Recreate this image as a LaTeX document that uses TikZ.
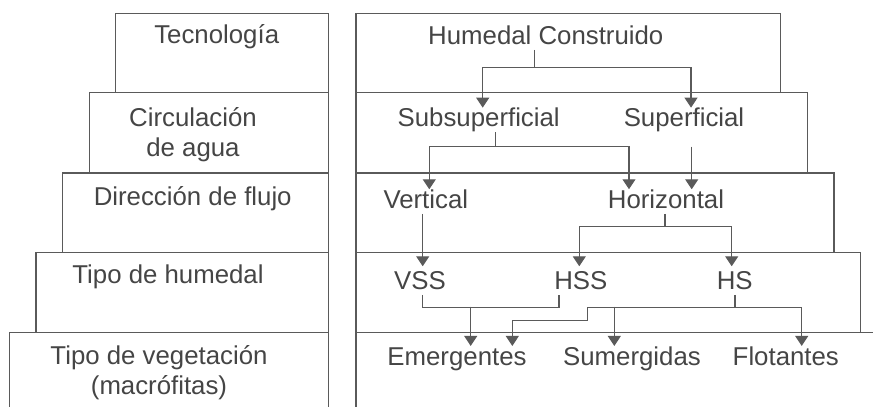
\documentclass[tikz,border=0pt]{standalone}
\usepackage{fontspec}
\setmainfont{Liberation Sans}
\usetikzlibrary{arrows.meta}
\definecolor{linegray}{HTML}{5A5A5A}
\definecolor{textgray}{HTML}{454545}

\begin{document}
\begin{tikzpicture}[x=1pt,y=-1pt,line width=1.1pt,color=linegray,
        lbl/.style={font=\fontsize{25.8}{30}\selectfont,text=textgray,inner sep=0pt,anchor=base,align=center},
        item/.style={lbl,text height=18.5pt,text depth=5pt},
        arr/.style={-{Triangle[width=13pt,length=10pt]}}]
        \useasboundingbox (0,0) rectangle (873,407);
        \foreach \xl/\yt/\yb in {115.7/13.3/92.3,89.3/92.3/173,62.7/173/252.3,36/252.3/332.3,9.7/332.3/407}
            \draw (\xl,\yb) |- (328.3,\yt) -- (328.3,\yb);
        \foreach \xr/\yt/\yb in {780.7/13.3/92.3,807.3/92.3/173,834/173/252.3,860.7/252.3/332.3}
            \draw (356,\yb) |- (\xr,\yt) -- (\xr,\yb);
        \draw (356,407) |- (873,332.3);
        \node[lbl] (tec) at (216.7,43.3) {Tecnología};
        \node[lbl] (cir) at (193,156.7) {Circulación\\de agua};
        \node[lbl] (dir) at (192.7,205.3) {Dirección de flujo};
        \node[lbl] (tip) at (168,283.3) {Tipo de humedal};
        \node[lbl] (veg) at (159,394) {Tipo de vegetación\\(macrófitas)};
        \node[item] (hc) at (545.8,44.3) {Humedal Construido};
        \node[item] (sub) at (478.7,126.7) {Subsuperficial};
        \node[item] (sup) at (684,126.7) {Superficial};
        \node[item] (ver) at (425.8,208.3) {Vertical};
        \node[item] (hor) at (666,208.3) {Horizontal};
        \node[item] (vss) at (420,289.3) {VSS};
        \node[item] (hss) at (580.8,289.3) {HSS};
        \node[item] (hs) at (734.7,289.3) {HS};
        \node[item] (eme) at (457,365) {Emergentes};
        \node[item] (sum) at (632,365) {Sumergidas};
        \node[item] (flo) at (785.8,365) {Flotantes};
        \draw ([xshift=-11.5pt]hc.south) -- ++(0,17.4) coordinate (hcj);
        \draw[arr] (hcj) -| ([xshift=4pt]sub.north);
        \draw[arr] (hcj) -| ([xshift=7pt]sup.north);
        \draw ([xshift=17pt]sub.south) -- ++(0,14.3) coordinate (subj);
        \draw[arr] (subj) -| ([xshift=3.5pt]ver.north);
        \draw[arr] (subj) -| ([xshift=-37pt]hor.north);
        \draw[arr] ([xshift=7.7pt,yshift=-14.3pt]sup.south) -- ([xshift=25.7pt]hor.north);
        \draw[arr,shorten >=4pt] ([xshift=-3.1pt]ver.south) -- ([xshift=2.7pt]vss.north);
        \draw ([xshift=-1pt]hor.south) -- ++(0,12.7) coordinate (horj);
        \draw[arr,shorten >=4pt] (horj) -| ([xshift=-1.5pt]hss.north);
        \draw[arr,shorten >=4pt] (horj) -| ([xshift=-3pt]hs.north);
        \draw ([xshift=2.7pt]vss.south) -- ++(0,12.4) -| ([xshift=-21.8pt]hss.south);
        \coordinate (vssj) at (470.7,306.7);
        \draw[arr] (vssj) -- (vssj |- eme.north);
        \draw ([xshift=0.3pt]hs.south) -- ++(0,12.4) coordinate (hsj);
        \draw[arr] (hsj) -| ([xshift=15.9pt]flo.north);
        \coordinate (hsk) at (587.3,320.7);
        \draw[arr] (hsj) -| (hsk) -| ([xshift=55.3pt]eme.north);
        \coordinate (sumj) at (614.3,306.7);
        \draw[arr] (sumj) -- (sumj |- sum.north);
\end{tikzpicture}
\end{document}
